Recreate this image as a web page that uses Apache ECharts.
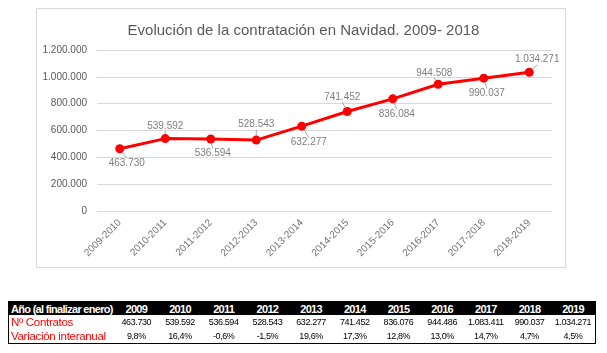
<!DOCTYPE html>
<html><head><meta charset="utf-8">
<script src="https://cdn.jsdelivr.net/npm/echarts@6/dist/echarts.min.js"></script>
<style>
html,body{margin:0;padding:0;background:#fff;width:607px;height:353px;overflow:hidden;}
#box{position:absolute;left:36px;top:8px;width:530px;height:260px;border:1px solid #d9d9d9;box-sizing:border-box;}
#chart{position:absolute;left:0;top:0;width:607px;height:353px;}
#tbl{position:absolute;left:8px;top:301px;border-collapse:collapse;table-layout:fixed;border:1.5px solid #000;font-family:"Liberation Sans",Arial,sans-serif;}
#tbl td{padding:0;text-align:center;white-space:nowrap;overflow:hidden;}
#tbl tr.h td{background:#000;color:#fff;font-weight:bold;font-size:11px;height:13px;letter-spacing:-0.7px;}
#tbl tr.h td.l{text-align:left;padding-left:2px;}
#tbl tr.r td{font-size:9px;color:#000;height:14px;letter-spacing:-0.4px;}
#tbl tr.r td.l{color:#ff0000;font-size:11.5px;text-align:left;padding-left:2px;letter-spacing:-0.3px;}
</style></head>
<body>
<div id="box"></div>
<div id="chart"></div>
<table id="tbl"></table>
<script>
const categories = ["2009-2010","2010-2011","2011-2012","2012-2013","2013-2014","2014-2015","2015-2016","2016-2017","2017-2018","2018-2019"];
const contratos = [463730, 539592, 536594, 528543, 632277, 741452, 836084, 944508, 990037, 1034271];
const yTicks = [0, 200000, 400000, 600000, 800000, 1000000, 1200000];

const tableHeader = "Año (al finalizar enero)";
const tableYears = ["2009","2010","2011","2012","2013","2014","2015","2016","2017","2018","2019"];
const tableRow1Label = "Nº Contratos";
const tableRow1 = ["463.730","539.592","536.594","528.543","632.277","741.452","836.076","944.486","1.083.411","990.037","1.034.271"];
const tableRow2Label = "Variación interanual";
const tableRow2 = ["9,8%","16,4%","-0,6%","-1,5%","19,6%","17,3%","12,8%","13,0%","14,7%","4,7%","4,5%"];

// label placement: above (top) or below (bottom), and small shifts
const labelPos = ["bottom","top","bottom","top","bottom","top","bottom","top","bottom","top"];
const labelShift = [[7,4],[0,-2],[2,4],[0,-5],[7,6],[-5,-4],[4,5],[-4,-1],[3,5],[8,-2]];

function fmt(n){ return String(n).replace(/\B(?=(\d{3})+(?!\d))/g, '.'); }

const FONT = '"Liberation Sans",Arial,sans-serif';
const chart = echarts.init(document.getElementById('chart'), null, {renderer:'canvas'});
chart.setOption({
  animation:false,
  backgroundColor:'transparent',
  title:{
    text:"Evolución de la contratación en Navidad. 2009- 2018",
    left:'center', top:18,
    textStyle:{fontFamily:FONT,fontSize:15,fontWeight:'normal',color:'#595959'}
  },
  grid:{left:97,right:55,top:50,bottom:142,containLabel:false},
  xAxis:{
    type:'category', data:categories, boundaryGap:true,
    axisLine:{show:false}, axisTick:{show:false},
    axisLabel:{rotate:45,fontSize:10,color:'#737373',fontFamily:FONT,margin:10,interval:0}
  },
  yAxis:{
    type:'value', min:yTicks[0], max:yTicks[yTicks.length-1], interval:yTicks[1]-yTicks[0],
    axisLine:{show:false}, axisTick:{show:false},
    splitLine:{lineStyle:{color:'#d9d9d9',width:1}},
    axisLabel:{fontSize:10,color:'#595959',margin:10,fontFamily:FONT,formatter:v=>fmt(v)}
  },
  series:[{
    type:'line',
    data:contratos.map((v,i)=>({value:v,label:{position:labelPos[i]}})),
    lineStyle:{color:'#ff0000',width:3},
    itemStyle:{color:'#ff0000'},
    symbol:'circle', symbolSize:9,
    label:{show:true,fontSize:10,color:'#7f7f7f',fontFamily:FONT,distance:1,formatter:p=>fmt(p.value)},
    labelLine:{show:true,lineStyle:{color:'#a6a6a6',width:1}},
    labelLayout:function(p){ const s=labelShift[p.dataIndex]; return {dx:s[0],dy:s[1]}; }
  }]
});

// table
const tbl = document.getElementById('tbl');
const cg = document.createElement('colgroup');
let c0 = document.createElement('col'); c0.style.width='106px'; cg.appendChild(c0);
tableYears.forEach(()=>{const c=document.createElement('col'); c.style.width='43.7px'; cg.appendChild(c);});
tbl.appendChild(cg);
function addRow(cls,label,vals){
  const tr=document.createElement('tr'); tr.className=cls;
  const td=document.createElement('td'); td.className='l'; td.textContent=label; tr.appendChild(td);
  vals.forEach(v=>{const d=document.createElement('td'); d.textContent=v; tr.appendChild(d);});
  tbl.appendChild(tr);
}
addRow('h',tableHeader,tableYears);
addRow('r',tableRow1Label,tableRow1);
addRow('r',tableRow2Label,tableRow2);
</script>
</body></html>
